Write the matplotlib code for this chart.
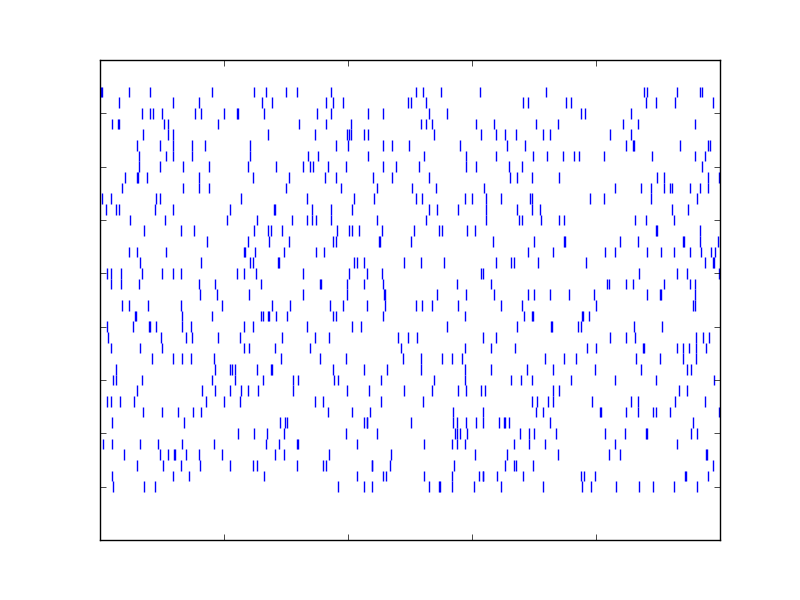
import numpy as np
import matplotlib
matplotlib.use("Agg")
import matplotlib.pyplot as plt

# spike times per neuron, listed from the top row (neuron 37) down to neuron 0
spikes = [
    [0.001, 0.003, 0.047, 0.081, 0.180, 0.249, 0.268, 0.300, 0.318, 0.373, 0.509, 0.521, 0.550, 0.613, 0.720, 0.878, 0.883, 0.931, 0.967, 0.971],
    [0.030, 0.118, 0.160, 0.262, 0.278, 0.365, 0.376, 0.392, 0.497, 0.501, 0.525, 0.683, 0.691, 0.752, 0.760, 0.880, 0.896, 0.928, 0.988],
    [0.067, 0.081, 0.086, 0.100, 0.154, 0.163, 0.200, 0.221, 0.223, 0.265, 0.350, 0.373, 0.433, 0.457, 0.530, 0.560, 0.775, 0.783, 0.857],
    [0.019, 0.029, 0.031, 0.104, 0.110, 0.191, 0.321, 0.365, 0.405, 0.518, 0.525, 0.536, 0.607, 0.636, 0.704, 0.738, 0.844, 0.868, 0.960],
    [0.070, 0.110, 0.118, 0.271, 0.346, 0.399, 0.402, 0.405, 0.425, 0.433, 0.538, 0.615, 0.639, 0.654, 0.671, 0.715, 0.726, 0.823, 0.857],
    [0.059, 0.097, 0.117, 0.149, 0.170, 0.242, 0.381, 0.400, 0.457, 0.471, 0.499, 0.581, 0.657, 0.686, 0.849, 0.860, 0.862, 0.936, 0.981, 0.984],
    [0.063, 0.107, 0.118, 0.149, 0.242, 0.336, 0.352, 0.433, 0.523, 0.591, 0.638, 0.699, 0.721, 0.746, 0.765, 0.773, 0.813, 0.891, 0.959, 0.976],
    [0.063, 0.097, 0.134, 0.175, 0.239, 0.284, 0.328, 0.338, 0.344, 0.368, 0.397, 0.457, 0.478, 0.515, 0.591, 0.607, 0.660, 0.681, 0.971],
    [0.041, 0.060, 0.062, 0.076, 0.160, 0.247, 0.305, 0.363, 0.380, 0.441, 0.471, 0.530, 0.662, 0.673, 0.697, 0.741, 0.899, 0.909, 0.980, 0.999],
    [0.036, 0.134, 0.160, 0.175, 0.300, 0.389, 0.447, 0.503, 0.542, 0.620, 0.831, 0.873, 0.888, 0.909, 0.920, 0.923, 0.952, 0.968, 0.981],
    [0.004, 0.017, 0.091, 0.097, 0.228, 0.334, 0.410, 0.442, 0.510, 0.520, 0.589, 0.600, 0.623, 0.647, 0.694, 0.697, 0.791, 0.813, 0.888, 0.963],
    [0.009, 0.025, 0.031, 0.089, 0.117, 0.210, 0.280, 0.283, 0.342, 0.373, 0.407, 0.531, 0.544, 0.578, 0.623, 0.673, 0.696, 0.710, 0.923, 0.949],
    [0.049, 0.105, 0.205, 0.254, 0.310, 0.334, 0.342, 0.349, 0.373, 0.447, 0.525, 0.623, 0.676, 0.681, 0.712, 0.741, 0.749, 0.863, 0.880, 0.925],
    [0.071, 0.131, 0.152, 0.249, 0.271, 0.275, 0.294, 0.383, 0.402, 0.407, 0.418, 0.455, 0.507, 0.547, 0.552, 0.592, 0.605, 0.897, 0.898, 0.968],
    [0.173, 0.238, 0.273, 0.305, 0.375, 0.380, 0.450, 0.452, 0.502, 0.634, 0.700, 0.748, 0.750, 0.839, 0.868, 0.940, 0.942, 0.968, 0.997],
    [0.047, 0.059, 0.107, 0.233, 0.234, 0.250, 0.297, 0.349, 0.362, 0.691, 0.731, 0.815, 0.830, 0.883, 0.905, 0.925, 0.952, 0.970, 0.986, 0.992],
    [0.065, 0.163, 0.242, 0.247, 0.287, 0.289, 0.410, 0.415, 0.425, 0.491, 0.518, 0.555, 0.639, 0.663, 0.667, 0.707, 0.784, 0.975, 0.989, 0.990],
    [0.012, 0.017, 0.034, 0.068, 0.100, 0.117, 0.131, 0.221, 0.233, 0.252, 0.328, 0.402, 0.430, 0.455, 0.615, 0.618, 0.870, 0.930, 0.946, 0.999],
    [0.017, 0.034, 0.063, 0.160, 0.186, 0.259, 0.355, 0.356, 0.399, 0.425, 0.457, 0.576, 0.630, 0.817, 0.821, 0.849, 0.859, 0.909, 0.952, 0.960],
    [0.162, 0.188, 0.241, 0.328, 0.399, 0.458, 0.460, 0.544, 0.591, 0.636, 0.691, 0.700, 0.725, 0.757, 0.797, 0.883, 0.903, 0.905, 0.960],
    [0.036, 0.046, 0.078, 0.130, 0.197, 0.278, 0.307, 0.371, 0.392, 0.431, 0.460, 0.510, 0.520, 0.536, 0.578, 0.646, 0.681, 0.800, 0.957, 0.960],
    [0.056, 0.058, 0.133, 0.181, 0.260, 0.263, 0.271, 0.273, 0.284, 0.302, 0.375, 0.381, 0.457, 0.588, 0.684, 0.697, 0.698, 0.777, 0.779, 0.789],
    [0.012, 0.054, 0.079, 0.081, 0.091, 0.133, 0.147, 0.233, 0.246, 0.334, 0.407, 0.421, 0.559, 0.673, 0.727, 0.729, 0.771, 0.775, 0.862, 0.907],
    [0.013, 0.099, 0.138, 0.149, 0.191, 0.225, 0.294, 0.347, 0.370, 0.480, 0.497, 0.512, 0.618, 0.639, 0.823, 0.849, 0.863, 0.962, 0.973, 0.983],
    [0.017, 0.065, 0.100, 0.233, 0.241, 0.283, 0.339, 0.486, 0.588, 0.631, 0.670, 0.786, 0.800, 0.876, 0.877, 0.930, 0.941, 0.950, 0.962, 0.978],
    [0.084, 0.118, 0.133, 0.146, 0.184, 0.292, 0.355, 0.397, 0.489, 0.518, 0.552, 0.567, 0.584, 0.717, 0.749, 0.767, 0.865, 0.904, 0.941, 0.962],
    [0.026, 0.186, 0.209, 0.213, 0.217, 0.254, 0.275, 0.278, 0.375, 0.425, 0.463, 0.518, 0.588, 0.630, 0.688, 0.731, 0.799, 0.873, 0.947, 0.954],
    [0.021, 0.025, 0.068, 0.180, 0.217, 0.263, 0.312, 0.320, 0.378, 0.384, 0.454, 0.538, 0.589, 0.663, 0.679, 0.697, 0.759, 0.831, 0.897, 0.991],
    [0.059, 0.165, 0.186, 0.210, 0.228, 0.238, 0.255, 0.312, 0.399, 0.434, 0.491, 0.536, 0.578, 0.591, 0.615, 0.621, 0.731, 0.741, 0.934, 0.946],
    [0.012, 0.018, 0.033, 0.055, 0.171, 0.200, 0.225, 0.346, 0.360, 0.454, 0.521, 0.697, 0.705, 0.723, 0.731, 0.794, 0.857, 0.867, 0.928, 0.976],
    [0.070, 0.100, 0.125, 0.150, 0.163, 0.368, 0.407, 0.436, 0.570, 0.617, 0.704, 0.715, 0.806, 0.808, 0.849, 0.868, 0.892, 0.897, 0.920, 0.999],
    [0.020, 0.136, 0.291, 0.299, 0.302, 0.425, 0.430, 0.431, 0.502, 0.570, 0.575, 0.591, 0.607, 0.618, 0.644, 0.652, 0.654, 0.660, 0.726, 0.957],
    [0.223, 0.249, 0.270, 0.297, 0.397, 0.447, 0.573, 0.576, 0.581, 0.592, 0.678, 0.692, 0.700, 0.736, 0.815, 0.847, 0.881, 0.882, 0.954, 0.963],
    [0.005, 0.020, 0.065, 0.094, 0.133, 0.184, 0.267, 0.289, 0.318, 0.319, 0.415, 0.523, 0.567, 0.576, 0.588, 0.668, 0.692, 0.717, 0.830, 0.930],
    [0.039, 0.097, 0.110, 0.119, 0.121, 0.139, 0.160, 0.197, 0.283, 0.297, 0.370, 0.470, 0.605, 0.657, 0.739, 0.821, 0.839, 0.977, 0.979],
    [0.060, 0.102, 0.130, 0.162, 0.210, 0.246, 0.254, 0.317, 0.360, 0.365, 0.438, 0.439, 0.467, 0.571, 0.654, 0.667, 0.671, 0.699, 0.989],
    [0.020, 0.118, 0.144, 0.265, 0.415, 0.457, 0.462, 0.523, 0.568, 0.612, 0.617, 0.618, 0.641, 0.683, 0.775, 0.781, 0.799, 0.944, 0.945, 0.980],
    [0.021, 0.071, 0.088, 0.384, 0.425, 0.438, 0.530, 0.546, 0.549, 0.568, 0.604, 0.646, 0.715, 0.778, 0.792, 0.833, 0.870, 0.892, 0.926, 0.963],
]
neurons = np.arange(len(spikes))[::-1]   # top row is the highest neuron index

plt.style.use('classic')
fig = plt.figure(figsize=(8, 6), dpi=100)
ax = fig.add_subplot(111)

ax.eventplot(spikes, lineoffsets=neurons, linelengths=1, colors='b', linewidths=1)

ax.set_xlim(0, 1)
ax.set_ylim(-5, 40)
ax.set_xticks(np.linspace(0, 1, 6))
ax.set_yticks(np.arange(-5, 41, 5))
ax.set_xticklabels([])
ax.set_yticklabels([])

fig.savefig('out.png', dpi=100)
